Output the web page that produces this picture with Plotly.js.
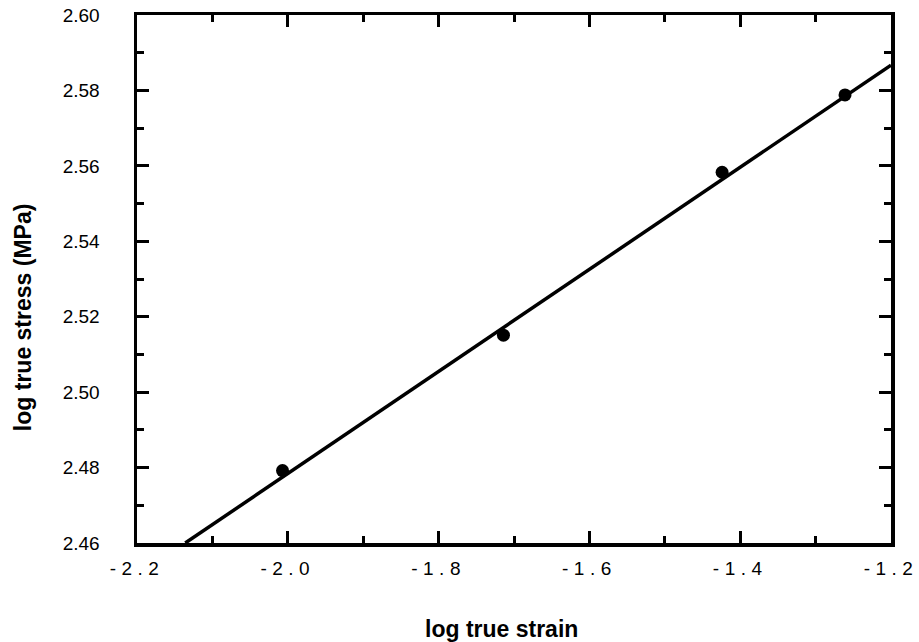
<!DOCTYPE html>
<html>
<head>
<meta charset="utf-8">
<script src="https://cdn.plot.ly/plotly-3.0.1.min.js"></script>
<style>
html,body{margin:0;padding:0;background:#fff;}
#chart{width:919px;height:642px;}
.xtick text{letter-spacing:5.5px;}
</style>
</head>
<body>
<div id="chart"></div>
<script>
// measured data points
var strainLog = [-2.007, -1.714, -1.424, -1.261];
var stressLog = [2.4792, 2.5151, 2.5583, 2.5788];
// fitted line end points (as drawn)
var fitX = [-2.136, -1.2];
var fitY = [2.46, 2.5867];
// tick labels
var xTickVals = [-2.2, -2.0, -1.8, -1.6, -1.4, -1.2];
var xTickText = ["-2.2", "-2.0", "-1.8", "-1.6", "-1.4", "-1.2"];
var yTickVals = [2.46, 2.48, 2.50, 2.52, 2.54, 2.56, 2.58, 2.60];
var yTickText = ["2.46", "2.48", "2.50", "2.52", "2.54", "2.56", "2.58", "2.60"];

var font = "Liberation Sans, Arial, sans-serif";

var traces = [
  {x: fitX, y: fitY, mode: 'lines', type: 'scatter',
   line: {color: '#000', width: 3.5}, hoverinfo: 'skip', showlegend: false},
  {x: strainLog, y: stressLog, mode: 'markers', type: 'scatter',
   marker: {color: '#000', size: 13}, showlegend: false}
];

var axisCommon = {
  showgrid: false, zeroline: false, showline: true, linecolor: '#000', linewidth: 3.5,
  mirror: 'ticks', ticks: 'inside', ticklen: 12, tickwidth: 3, tickcolor: '#000',
  tickfont: {family: font, size: 19, color: '#000'}
};

var layout = {
  width: 919, height: 642,
  margin: {l: 137, r: 28, t: 15, b: 99},
  paper_bgcolor: '#fff', plot_bgcolor: '#fff',
  xaxis: Object.assign({}, axisCommon, {
    range: [-2.2, -1.2], tickmode: 'array', tickvals: xTickVals, ticktext: xTickText,
    ticklabelstandoff: 6,
    minor: {dtick: 0.1, tick0: -2.2, ticks: 'inside', ticklen: 7, tickwidth: 3, tickcolor: '#000'}
  }),
  yaxis: Object.assign({}, axisCommon, {
    range: [2.46, 2.60], tickmode: 'array', tickvals: yTickVals, ticktext: yTickText,
    ticklabelstandoff: 30,
    minor: {dtick: 0.01, tick0: 2.46, ticks: 'inside', ticklen: 7, tickwidth: 3, tickcolor: '#000'}
  }),
  annotations: [
    {text: '<b>log true strain</b>', xref: 'paper', yref: 'paper', x: 0.484, y: -0.162,
     xanchor: 'center', yanchor: 'middle', showarrow: false,
     font: {family: font, size: 23, color: '#000'}},
    {text: '<b>log true stress (MPa)</b>', xref: 'paper', yref: 'paper', x: -0.151, y: 0.428,
     xanchor: 'center', yanchor: 'middle', showarrow: false, textangle: -90,
     font: {family: font, size: 23, color: '#000'}}
  ]
};

Plotly.newPlot('chart', traces, layout, {displayModeBar: false, staticPlot: true});
</script>
</body>
</html>
